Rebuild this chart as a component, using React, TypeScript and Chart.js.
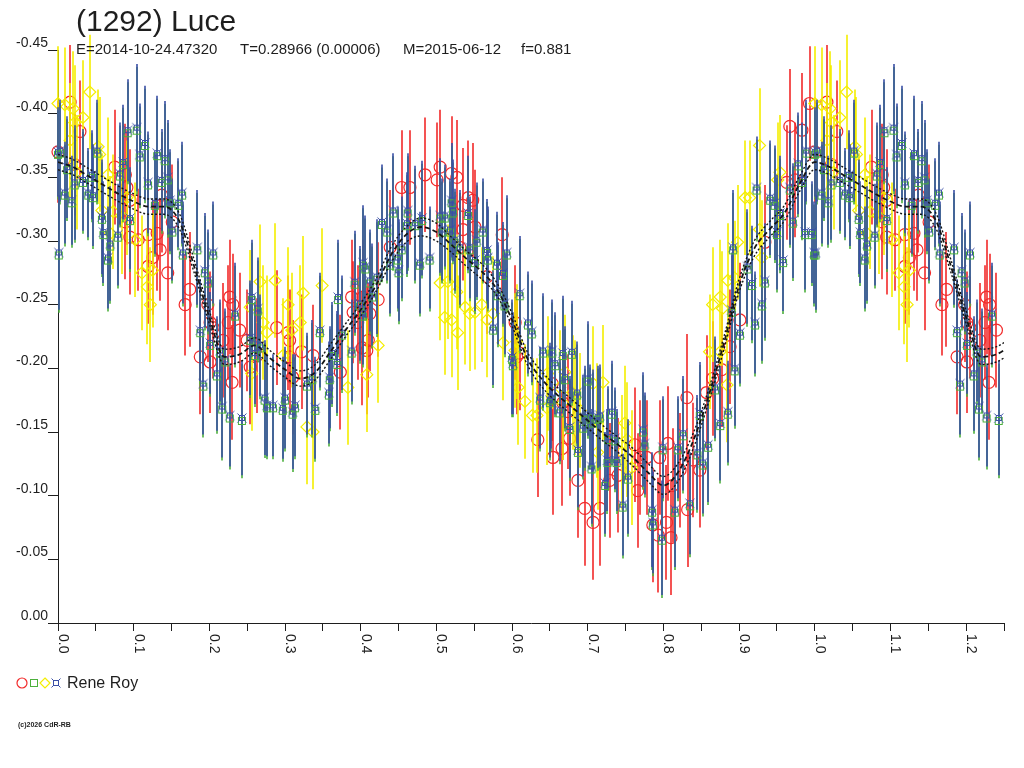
import React, { useEffect, useRef } from "react";
import { Chart, registerables } from "chart.js";

Chart.register(...registerables);

const FONT = '"Liberation Sans", Arial, Helvetica, sans-serif';
const INK = "#1e1e1e";
const RED = "#f22a2a";
const GREEN = "#4cb03c";
const YELLOW = "#f4ee00";
const BLUE = "#3a4fa6";

const title = "(1292) Luce";
const subtitle = ["E=2014-10-24.47320", "T=0.28966 (0.00006)", "M=2015-06-12", "f=0.881"];
const subtitleX = [76, 240, 403, 521];
const observer = "Rene Roy";
const credit = "(c)2026 CdR-RB";

const yTickValues = [-0.45, -0.4, -0.35, -0.3, -0.25, -0.2, -0.15, -0.1, -0.05, 0];
const yTickLabels = ["-0.45", "-0.40", "-0.35", "-0.30", "-0.25", "-0.20", "-0.15", "-0.10", "-0.05", "0.00"];
const xTickMarks = [
  0, 0.05, 0.1, 0.15, 0.2, 0.25, 0.3, 0.35, 0.4, 0.45, 0.5, 0.55, 0.6, 0.65, 0.7, 0.75, 0.8, 0.85, 0.9,
  0.95, 1.0, 1.05, 1.1, 1.15, 1.2, 1.25,
];
const xTickValues = [0, 0.1, 0.2, 0.3, 0.4, 0.5, 0.6, 0.7, 0.8, 0.9, 1.0, 1.1, 1.2];
const xTickLabels = ["0.0", "0.1", "0.2", "0.3", "0.4", "0.5", "0.6", "0.7", "0.8", "0.9", "1.0", "1.1", "1.2"];

// fitted curve (phase, reduced mag, 1-sigma band)
const fitPhase = [
  0, 0.02, 0.04, 0.06, 0.08, 0.1, 0.12, 0.14, 0.16, 0.18, 0.2, 0.22, 0.24, 0.26, 0.28, 0.3, 0.32, 0.34, 0.36,
  0.38, 0.4, 0.42, 0.44, 0.46, 0.48, 0.5, 0.52, 0.54, 0.56, 0.58, 0.6, 0.62, 0.64, 0.66, 0.68, 0.7, 0.72, 0.74,
  0.76, 0.78, 0.8, 0.82, 0.84, 0.86, 0.88, 0.9, 0.92, 0.94, 0.96, 0.98, 1.0,
];
const fitMag = [
  -0.362, -0.358, -0.351, -0.344, -0.337, -0.331, -0.327, -0.327, -0.316, -0.28, -0.24, -0.209, -0.211, -0.218,
  -0.208, -0.199, -0.192, -0.197, -0.213, -0.23, -0.246, -0.265, -0.289, -0.305, -0.311, -0.307, -0.297, -0.286,
  -0.276, -0.262, -0.238, -0.208, -0.191, -0.179, -0.169, -0.159, -0.149, -0.14, -0.13, -0.118, -0.108, -0.119,
  -0.144, -0.179, -0.22, -0.265, -0.294, -0.309, -0.322, -0.345, -0.362,
];
const fitSpread = [
  0.006, 0.006, 0.006, 0.006, 0.006, 0.006, 0.006, 0.006, 0.006, 0.005, 0.005, 0.006, 0.006, 0.006, 0.006,
  0.006, 0.006, 0.006, 0.006, 0.005, 0.005, 0.005, 0.006, 0.006, 0.007, 0.007, 0.006, 0.006, 0.006, 0.005,
  0.005, 0.005, 0.006, 0.006, 0.006, 0.006, 0.006, 0.006, 0.007, 0.007, 0.007, 0.007, 0.006, 0.005, 0.005,
  0.005, 0.006, 0.006, 0.006, 0.006, 0.006,
];

// [phase, reduced mag, error]
const bluePts: number[][] = [
  [0.0, -0.37, 0.035], [0.001, -0.291, 0.045], [0.009, -0.338, 0.04], [0.018, -0.332, 0.035], [0.012, -0.358, 0.04],
  [0.022, -0.346, 0.045], [0.033, -0.348, 0.04], [0.04, -0.338, 0.035], [0.046, -0.336, 0.04], [0.045, -0.352, 0.035],
  [0.052, -0.371, 0.04], [0.058, -0.319, 0.045], [0.06, -0.307, 0.04], [0.066, -0.287, 0.04], [0.069, -0.298, 0.045],
  [0.079, -0.305, 0.04], [0.086, -0.362, 0.045], [0.082, -0.353, 0.04], [0.092, -0.387, 0.04], [0.104, -0.389, 0.05],
  [0.115, -0.377, 0.045], [0.108, -0.368, 0.04], [0.095, -0.318, 0.04], [0.119, -0.346, 0.04], [0.131, -0.369, 0.045],
  [0.141, -0.365, 0.045], [0.137, -0.348, 0.04], [0.145, -0.35, 0.045], [0.128, -0.33, 0.04], [0.148, -0.332, 0.04],
  [0.164, -0.338, 0.04], [0.159, -0.33, 0.035], [0.151, -0.309, 0.04], [0.165, -0.291, 0.04], [0.184, -0.295, 0.045],
  [0.205, -0.291, 0.04], [0.194, -0.277, 0.045], [0.198, -0.269, 0.04], [0.234, -0.243, 0.04], [0.256, -0.256, 0.045],
  [0.264, -0.247, 0.04], [0.37, -0.256, 0.045], [0.392, -0.268, 0.04], [0.403, -0.283, 0.045], [0.406, -0.28, 0.04],
  [0.188, -0.23, 0.04], [0.201, -0.22, 0.04], [0.214, -0.214, 0.04], [0.221, -0.207, 0.04], [0.21, -0.196, 0.045],
  [0.192, -0.188, 0.04], [0.217, -0.17, 0.04], [0.227, -0.163, 0.04], [0.243, -0.161, 0.045], [0.254, -0.224, 0.045],
  [0.267, -0.218, 0.04], [0.26, -0.212, 0.04], [0.273, -0.177, 0.045], [0.276, -0.171, 0.04], [0.284, -0.171, 0.04],
  [0.297, -0.169, 0.04], [0.3, -0.177, 0.04], [0.313, -0.171, 0.04], [0.31, -0.166, 0.045], [0.34, -0.169, 0.04],
  [0.329, -0.188, 0.04], [0.336, -0.193, 0.045], [0.346, -0.23, 0.045], [0.362, -0.212, 0.04], [0.359, -0.193, 0.04],
  [0.358, -0.181, 0.04], [0.369, -0.205, 0.04], [0.375, -0.228, 0.045], [0.388, -0.214, 0.04], [0.399, -0.251, 0.045],
  [0.403, -0.243, 0.04], [0.412, -0.269, 0.04], [0.421, -0.272, 0.045], [0.415, -0.258, 0.04], [0.428, -0.315, 0.045],
  [0.435, -0.309, 0.04], [0.443, -0.324, 0.045], [0.462, -0.324, 0.045], [0.449, -0.287, 0.04], [0.45, -0.277, 0.04],
  [0.439, -0.283, 0.04], [0.454, -0.295, 0.04], [0.461, -0.314, 0.04], [0.472, -0.314, 0.045], [0.481, -0.318, 0.045],
  [0.478, -0.283, 0.04], [0.491, -0.287, 0.04], [0.505, -0.32, 0.045], [0.507, -0.309, 0.04], [0.511, -0.32, 0.04],
  [0.52, -0.332, 0.045], [0.518, -0.309, 0.04], [0.524, -0.301, 0.04], [0.531, -0.295, 0.045], [0.522, -0.324, 0.04],
  [0.542, -0.322, 0.045], [0.544, -0.295, 0.04], [0.551, -0.285, 0.04], [0.553, -0.301, 0.045], [0.561, -0.309, 0.04],
  [0.567, -0.293, 0.04], [0.568, -0.287, 0.04], [0.58, -0.283, 0.04], [0.588, -0.275, 0.04], [0.593, -0.291, 0.045],
  [0.581, -0.259, 0.04], [0.59, -0.251, 0.04], [0.575, -0.232, 0.045], [0.61, -0.259, 0.045], [0.621, -0.236, 0.04],
  [0.626, -0.229, 0.04], [0.6, -0.209, 0.045], [0.601, -0.204, 0.04], [0.641, -0.214, 0.045], [0.653, -0.214, 0.04],
  [0.667, -0.212, 0.045], [0.679, -0.213, 0.04], [0.67, -0.193, 0.04], [0.637, -0.177, 0.04], [0.652, -0.177, 0.04],
  [0.7, -0.192, 0.045], [0.686, -0.181, 0.04], [0.703, -0.163, 0.04], [0.716, -0.163, 0.04], [0.732, -0.166, 0.04],
  [0.657, -0.204, 0.04], [0.65, -0.175, 0.045], [0.663, -0.167, 0.04], [0.676, -0.154, 0.04], [0.687, -0.136, 0.045],
  [0.696, -0.162, 0.04], [0.694, -0.155, 0.04], [0.707, -0.159, 0.04], [0.713, -0.162, 0.04], [0.705, -0.123, 0.045],
  [0.723, -0.11, 0.04], [0.727, -0.146, 0.04], [0.736, -0.145, 0.04], [0.726, -0.128, 0.04], [0.738, -0.128, 0.04],
  [0.753, -0.115, 0.045], [0.746, -0.093, 0.04], [0.773, -0.152, 0.045], [0.775, -0.141, 0.04], [0.785, -0.089, 0.045],
  [0.786, -0.079, 0.04], [0.798, -0.067, 0.045], [0.799, -0.138, 0.04], [0.815, -0.089, 0.045], [0.819, -0.138, 0.04],
  [0.826, -0.149, 0.045], [0.835, -0.094, 0.04], [0.845, -0.134, 0.045], [0.852, -0.126, 0.04], [0.859, -0.14, 0.045],
  [0.848, -0.165, 0.04], [0.868, -0.185, 0.04], [0.875, -0.157, 0.045], [0.885, -0.166, 0.04], [0.894, -0.2, 0.045],
  [0.901, -0.228, 0.04], [0.921, -0.236, 0.04], [0.892, -0.295, 0.045], [0.89, -0.246, 0.045], [0.917, -0.267, 0.045],
  [0.923, -0.342, 0.04], [0.911, -0.28, 0.045], [0.93, -0.251, 0.045], [0.934, -0.269, 0.045], [0.941, -0.334, 0.045],
  [0.947, -0.33, 0.045], [0.95, -0.307, 0.045], [0.954, -0.322, 0.045], [0.958, -0.285, 0.04], [0.971, -0.316, 0.045],
  [0.967, -0.342, 0.045], [0.978, -0.361, 0.04], [0.987, -0.307, 0.045], [0.996, -0.307, 0.04], [0.999, -0.291, 0.04],
  [0.983, -0.348, 0.045], [0.989, -0.371, 0.04], [0.003, -0.371, 0.04],
];

const redPts: number[][] = [
  [0.016, -0.409, 0.045], [0.029, -0.386, 0.04], [0.022, -0.36, 0.04], [0.0, -0.37, 0.04], [0.075, -0.358, 0.045],
  [0.089, -0.352, 0.04], [0.091, -0.342, 0.045], [0.095, -0.332, 0.04], [0.089, -0.315, 0.045], [0.095, -0.303, 0.045],
  [0.106, -0.301, 0.04], [0.119, -0.305, 0.045], [0.131, -0.306, 0.045], [0.135, -0.293, 0.04], [0.125, -0.287, 0.045],
  [0.145, -0.275, 0.045], [0.137, -0.336, 0.045], [0.151, -0.315, 0.045], [0.119, -0.28, 0.045], [0.174, -0.262, 0.045],
  [0.168, -0.25, 0.04], [0.198, -0.25, 0.045], [0.227, -0.256, 0.045], [0.231, -0.25, 0.04], [0.225, -0.236, 0.045],
  [0.201, -0.236, 0.04], [0.289, -0.232, 0.045], [0.388, -0.256, 0.045], [0.39, -0.244, 0.04], [0.188, -0.209, 0.045],
  [0.205, -0.232, 0.04], [0.218, -0.222, 0.045], [0.201, -0.205, 0.04], [0.23, -0.189, 0.045], [0.24, -0.23, 0.045],
  [0.25, -0.222, 0.04], [0.254, -0.201, 0.045], [0.263, -0.21, 0.045], [0.304, -0.228, 0.045], [0.306, -0.222, 0.04],
  [0.322, -0.213, 0.045], [0.337, -0.21, 0.04], [0.306, -0.209, 0.045], [0.31, -0.193, 0.045], [0.373, -0.197, 0.045],
  [0.396, -0.236, 0.045], [0.402, -0.216, 0.045], [0.41, -0.222, 0.045], [0.403, -0.256, 0.045], [0.412, -0.243, 0.045],
  [0.408, -0.214, 0.05], [0.423, -0.254, 0.045], [0.439, -0.295, 0.045], [0.454, -0.342, 0.045], [0.465, -0.342, 0.045],
  [0.485, -0.352, 0.045], [0.501, -0.348, 0.045], [0.505, -0.358, 0.045], [0.52, -0.353, 0.045], [0.527, -0.35, 0.045],
  [0.542, -0.334, 0.045], [0.548, -0.332, 0.045], [0.535, -0.328, 0.045], [0.551, -0.311, 0.045], [0.535, -0.309, 0.04],
  [0.531, -0.295, 0.04], [0.567, -0.272, 0.045], [0.587, -0.305, 0.045], [0.604, -0.236, 0.045], [0.61, -0.212, 0.045],
  [0.653, -0.188, 0.045], [0.667, -0.173, 0.045], [0.606, -0.209, 0.045], [0.634, -0.144, 0.045], [0.654, -0.13, 0.045],
  [0.666, -0.137, 0.045], [0.674, -0.166, 0.045], [0.676, -0.145, 0.045], [0.687, -0.112, 0.045], [0.696, -0.09, 0.045],
  [0.707, -0.079, 0.045], [0.716, -0.09, 0.045], [0.729, -0.112, 0.045], [0.74, -0.116, 0.045], [0.762, -0.14, 0.045],
  [0.766, -0.104, 0.045], [0.769, -0.13, 0.045], [0.778, -0.13, 0.045], [0.795, -0.13, 0.045], [0.806, -0.141, 0.045],
  [0.812, -0.108, 0.045], [0.822, -0.12, 0.045], [0.786, -0.077, 0.045], [0.804, -0.079, 0.045], [0.793, -0.069, 0.045],
  [0.81, -0.067, 0.045], [0.832, -0.089, 0.045], [0.831, -0.177, 0.05], [0.839, -0.128, 0.045], [0.848, -0.12, 0.045],
  [0.857, -0.181, 0.045], [0.865, -0.192, 0.045], [0.877, -0.199, 0.045], [0.888, -0.217, 0.045], [0.901, -0.238, 0.045],
  [0.934, -0.299, 0.045], [0.967, -0.39, 0.045], [0.983, -0.387, 0.045], [0.993, -0.408, 0.045], [0.974, -0.348, 0.045],
  [0.963, -0.346, 0.045],
];

const yellowPts: number[][] = [
  [0.0, -0.408, 0.045], [0.009, -0.407, 0.045], [0.02, -0.404, 0.045], [0.022, -0.393, 0.045], [0.033, -0.397, 0.045],
  [0.042, -0.417, 0.045], [0.016, -0.379, 0.045], [0.025, -0.354, 0.045], [0.053, -0.374, 0.045], [0.055, -0.368, 0.045],
  [0.066, -0.352, 0.045], [0.058, -0.324, 0.045], [0.073, -0.323, 0.045], [0.069, -0.306, 0.045], [0.085, -0.319, 0.045],
  [0.091, -0.334, 0.045], [0.102, -0.301, 0.045], [0.111, -0.275, 0.045], [0.118, -0.264, 0.045], [0.122, -0.25, 0.045],
  [0.125, -0.277, 0.045], [0.267, -0.268, 0.045], [0.287, -0.269, 0.045], [0.304, -0.25, 0.045], [0.32, -0.236, 0.045],
  [0.349, -0.265, 0.045], [0.324, -0.259, 0.045], [0.254, -0.248, 0.045], [0.271, -0.236, 0.045], [0.276, -0.228, 0.045],
  [0.309, -0.23, 0.045], [0.297, -0.21, 0.045], [0.256, -0.196, 0.045], [0.329, -0.154, 0.045], [0.337, -0.15, 0.045],
  [0.383, -0.185, 0.045], [0.408, -0.195, 0.045], [0.423, -0.218, 0.045], [0.505, -0.267, 0.045], [0.515, -0.268, 0.045],
  [0.527, -0.26, 0.045], [0.511, -0.24, 0.045], [0.52, -0.238, 0.045], [0.528, -0.228, 0.045], [0.538, -0.248, 0.045],
  [0.544, -0.243, 0.045], [0.551, -0.244, 0.045], [0.56, -0.25, 0.045], [0.567, -0.238, 0.045], [0.575, -0.243, 0.045],
  [0.588, -0.22, 0.045], [0.606, -0.221, 0.045], [0.608, -0.185, 0.045], [0.617, -0.174, 0.045], [0.627, -0.163, 0.045],
  [0.663, -0.185, 0.045], [0.68, -0.181, 0.045], [0.707, -0.188, 0.045], [0.72, -0.189, 0.045], [0.69, -0.167, 0.045],
  [0.604, -0.214, 0.045], [0.633, -0.163, 0.045], [0.646, -0.169, 0.045], [0.647, -0.196, 0.045], [0.667, -0.173, 0.045],
  [0.67, -0.197, 0.045], [0.683, -0.177, 0.045], [0.713, -0.134, 0.045], [0.712, -0.159, 0.045], [0.749, -0.157, 0.045],
  [0.752, -0.144, 0.045], [0.745, -0.134, 0.045], [0.758, -0.122, 0.045], [0.861, -0.213, 0.045], [0.875, -0.213, 0.045],
  [0.884, -0.187, 0.045], [0.865, -0.25, 0.045], [0.875, -0.256, 0.045], [0.878, -0.247, 0.045], [0.885, -0.269, 0.045],
  [0.898, -0.299, 0.045], [0.894, -0.271, 0.045], [0.927, -0.375, 0.045], [0.908, -0.334, 0.045], [0.914, -0.334, 0.045],
  [0.954, -0.354, 0.045], [0.951, -0.348, 0.045], [0.927, -0.309, 0.045], [0.93, -0.287, 0.045],
];

// the plot repeats phases 0..0.25 after 1.0
const withRepeat = (pts: number[][]) => [
  ...pts,
  ...pts.filter((p) => p[0] < 0.25).map((p) => [p[0] + 1, p[1], p[2]]),
];

function makeBlueMarker(): HTMLCanvasElement {
  const c = document.createElement("canvas");
  c.width = 16;
  c.height = 16;
  const g = c.getContext("2d")!;
  g.lineWidth = 1;
  g.strokeStyle = GREEN;
  g.strokeRect(4.5, 7.5, 7, 7);
  g.strokeStyle = BLUE;
  g.strokeRect(5.5, 5.5, 5, 5);
  g.beginPath();
  g.moveTo(3.5, 3.5); g.lineTo(5.5, 5.5);
  g.moveTo(12.5, 3.5); g.lineTo(10.5, 5.5);
  g.moveTo(3.5, 12.5); g.lineTo(5.5, 10.5);
  g.moveTo(12.5, 12.5); g.lineTo(10.5, 10.5);
  g.stroke();
  return c;
}

const errorBars = {
  id: "errorBars",
  beforeDatasetDraw(chart: any, args: any) {
    const ds = chart.data.datasets[args.index];
    if (!ds.errs) return;
    const { ctx, chartArea } = chart;
    const xs = chart.scales.x;
    const ys = chart.scales.y;
    ctx.save();
    ctx.beginPath();
    ctx.rect(chartArea.left - 6, chartArea.top - 20, chartArea.right - chartArea.left + 6, chartArea.bottom - chartArea.top + 20);
    ctx.clip();
    ctx.lineWidth = 1.6;
    const layers = ds.underColor ? [[ds.underColor, 3], [ds.errColor, 0]] : [[ds.errColor, 0]];
    for (const [color, shift] of layers) {
      ctx.strokeStyle = color;
      ctx.beginPath();
      ds.data.forEach((p: any, i: number) => {
        const px = Math.round(xs.getPixelForValue(p.x));
        ctx.moveTo(px, ys.getPixelForValue(p.y - ds.errs[i]) + shift);
        ctx.lineTo(px, ys.getPixelForValue(p.y + ds.errs[i]) + shift);
      });
      ctx.stroke();
    }
    ctx.restore();
  },
};

// phase labels read downward, like the original
const phaseLabels = {
  id: "phaseLabels",
  afterDraw(chart: any) {
    const { ctx } = chart;
    const xs = chart.scales.x;
    ctx.save();
    ctx.fillStyle = INK;
    ctx.font = `14px ${FONT}`;
    ctx.textAlign = "left";
    ctx.textBaseline = "alphabetic";
    xTickValues.forEach((v, i) => {
      const px = xs.getPixelForValue(v);
      ctx.save();
      ctx.translate(px + 1, xs.top + 11);
      ctx.rotate(Math.PI / 2);
      ctx.fillText(xTickLabels[i], 0, 0);
      ctx.restore();
    });
    ctx.restore();
  },
};

const LightCurve: React.FC = () => {
  const canvasRef = useRef<HTMLCanvasElement>(null);

  useEffect(() => {
    if (!canvasRef.current) return;
    const ctx = canvasRef.current.getContext("2d")!;
    Chart.defaults.font.family = FONT;

    const toXY = (pts: number[][]) => pts.map((p) => ({ x: p[0], y: p[1] }));
    const fitBase = fitPhase.map((ph, i) => [ph, fitMag[i], fitSpread[i]]);
    const fitAll = [...fitBase, ...fitBase.filter((p) => p[0] > 0 && p[0] <= 0.26).map((p) => [p[0] + 1, p[1], p[2]])];
    const fitLine = (sign: number, dash: number[], width: number) => ({
      data: fitAll.map((p) => ({ x: p[0], y: p[1] + sign * p[2] })),
      showLine: true,
      borderColor: "#151515",
      borderWidth: width,
      borderDash: dash,
      pointRadius: 0,
      cubicInterpolationMode: "monotone",
      fill: false,
    });

    const blue = withRepeat(bluePts);
    const yellow = withRepeat(yellowPts);
    const red = withRepeat(redPts);

    const chart = new Chart(ctx, {
      type: "scatter",
      data: {
        datasets: [
          fitLine(-1, [2, 2], 1.4),
          fitLine(0, [5, 3], 1.8),
          fitLine(1, [2, 2], 1.4),
          {
            data: toXY(blue),
            errs: blue.map((p) => p[2]),
            errColor: BLUE,
            underColor: GREEN,
            pointStyle: makeBlueMarker(),
            pointRadius: 5,
            clip: false,
          },
          {
            data: toXY(yellow),
            errs: yellow.map((p) => p[2]),
            errColor: YELLOW,
            pointStyle: "rectRot",
            pointRadius: 6,
            borderColor: YELLOW,
            backgroundColor: "rgba(0,0,0,0)",
            borderWidth: 1.2,
            clip: false,
          },
          {
            data: toXY(red),
            errs: red.map((p) => p[2]),
            errColor: RED,
            pointStyle: "circle",
            pointRadius: 6,
            borderColor: RED,
            backgroundColor: "rgba(0,0,0,0)",
            borderWidth: 1.2,
            clip: false,
          },
        ] as any,
      },
      options: {
        animation: false,
        responsive: false,
        devicePixelRatio: 1,
        events: [],
        layout: { padding: { top: 50, right: 20, left: 0, bottom: 0 } },
        plugins: { legend: { display: false }, tooltip: { enabled: false } },
        scales: {
          x: {
            type: "linear",
            min: 0,
            max: 1.25,
            afterBuildTicks: (s: any) => {
              s.ticks = xTickMarks.map((value) => ({ value }));
            },
            ticks: { callback: () => "", autoSkip: false, maxRotation: 0 },
            grid: { drawOnChartArea: false, tickLength: 8, color: INK, lineWidth: 1 },
            border: { color: INK, width: 1 },
            afterFit: (s: any) => {
              s.height = 145;
            },
          },
          y: {
            type: "linear",
            min: -0.45,
            max: 0,
            reverse: true,
            afterBuildTicks: (s: any) => {
              s.ticks = yTickValues.map((value) => ({ value }));
            },
            ticks: {
              callback: (_v: any, i: number) => yTickLabels[i],
              color: INK,
              font: { size: 14, family: FONT },
              padding: 0,
              labelOffset: -7,
              autoSkip: false,
            },
            grid: { drawOnChartArea: false, tickLength: 10, color: INK, lineWidth: 1 },
            border: { color: INK, width: 1 },
            afterFit: (s: any) => {
              s.width = 58;
            },
          },
        },
      } as any,
      plugins: [errorBars, phaseLabels],
    });

    return () => {
      chart.destroy();
    };
  }, []);

  return (
    <div
      style={{
        position: "fixed",
        left: 0,
        top: 0,
        width: 1024,
        height: 768,
        background: "#fff",
        fontFamily: FONT,
        color: INK,
        overflow: "hidden",
      }}
    >
      <canvas
        ref={canvasRef}
        width={1024}
        height={768}
        style={{ position: "absolute", left: 0, top: 0, width: 1024, height: 768 }}
      />
      <div style={{ position: "absolute", left: 76, top: 6, fontSize: 30, lineHeight: "30px", whiteSpace: "nowrap" }}>
        {title}
      </div>
      {subtitle.map((s, i) => (
        <div
          key={s}
          style={{ position: "absolute", left: subtitleX[i], top: 41, fontSize: 15, lineHeight: "15px", whiteSpace: "nowrap" }}
        >
          {s}
        </div>
      ))}
      <svg style={{ position: "absolute", left: 16, top: 677 }} width={48} height={13}>
        <circle cx={6} cy={6} r={5} fill="none" stroke={RED} strokeWidth={1.2} />
        <rect x={14.5} y={2.5} width={7} height={7} fill="none" stroke={GREEN} strokeWidth={1} />
        <polygon points="29,1 34,6 29,11 24,6" fill="none" stroke={YELLOW} strokeWidth={1.2} />
        <rect x={37.5} y={3.5} width={5} height={5} fill="none" stroke={BLUE} strokeWidth={1} />
        <path d="M35.5 1.5 L37.5 3.5 M44.5 1.5 L42.5 3.5 M35.5 10.5 L37.5 8.5 M44.5 10.5 L42.5 8.5" stroke={BLUE} strokeWidth={1} />
      </svg>
      <div style={{ position: "absolute", left: 67, top: 675, fontSize: 16, lineHeight: "16px", whiteSpace: "nowrap" }}>
        {observer}
      </div>
      <div
        style={{ position: "absolute", left: 18, top: 721, fontSize: 7, lineHeight: "8px", fontWeight: "bold", whiteSpace: "nowrap" }}
      >
        {credit}
      </div>
    </div>
  );
};

export default function App() {
  return <LightCurve />;
}
